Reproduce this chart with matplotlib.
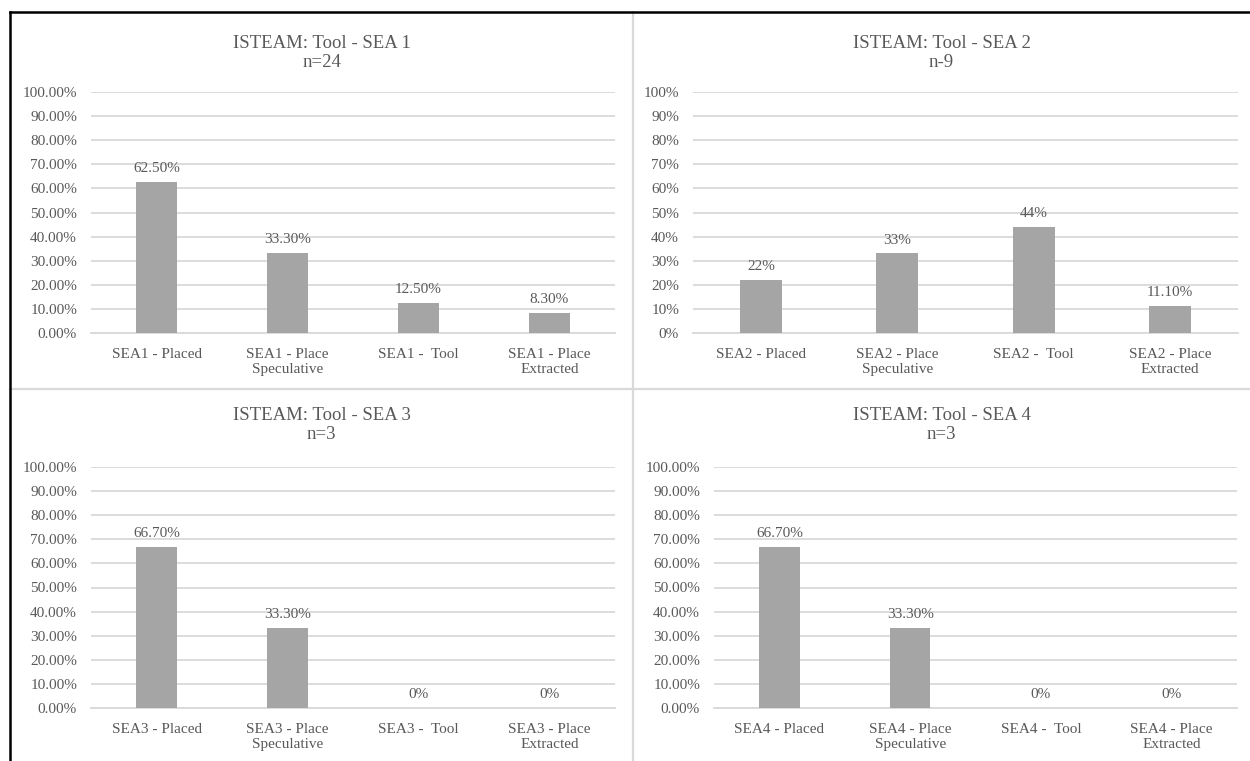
import matplotlib
matplotlib.use("Agg")
import matplotlib.pyplot as plt
from matplotlib.lines import Line2D
from matplotlib.ticker import FuncFormatter

plt.rcParams["font.family"] = ["Liberation Serif", "DejaVu Serif"]

# ---- data ----
titles = ["ISTEAM: Tool - SEA 1\nn=24", "ISTEAM: Tool - SEA 2\nn-9",
          "ISTEAM: Tool - SEA 3\nn=3", "ISTEAM: Tool - SEA 4\nn=3"]

cats_sea1 = ["SEA1 - Placed", "SEA1 - Place\nSpeculative", "SEA1 -  Tool", "SEA1 - Place\nExtracted"]
cats_sea2 = ["SEA2 - Placed", "SEA2 - Place\nSpeculative", "SEA2 -  Tool", "SEA2 - Place\nExtracted"]
cats_sea3 = ["SEA3 - Placed", "SEA3 - Place\nSpeculative", "SEA3 -  Tool", "SEA3 - Place\nExtracted"]
cats_sea4 = ["SEA4 - Placed", "SEA4 - Place\nSpeculative", "SEA4 -  Tool", "SEA4 - Place\nExtracted"]

vals_sea1 = [62.5, 33.3, 12.5, 8.3]
vals_sea2 = [22, 33, 44, 11.1]
vals_sea3 = [66.7, 33.3, 0, 0]
vals_sea4 = [66.7, 33.3, 0, 0]

# decimals shown in each data label
dec_sea1 = [2, 2, 2, 2]
dec_sea2 = [0, 0, 0, 2]
dec_sea3 = [2, 2, 0, 0]
dec_sea4 = [2, 2, 0, 0]

# decimals on the y tick labels
ytick_dec = [2, 0, 2, 2]
yticks = [0, 10, 20, 30, 40, 50, 60, 70, 80, 90, 100]

# ---- style ----
W, H = 1250, 761
BAR = "#A5A5A5"
GRID = "#D9D9D9"
TXT = "#595959"

fig = plt.figure(figsize=(W / 100, H / 100), dpi=100)


def frac_rect(x0, x1, ytop, ybot):
    return [x0 / W, 1 - ybot / H, (x1 - x0) / W, (ybot - ytop) / H]


rects = [frac_rect(91, 615, 92, 333), frac_rect(693, 1238, 92, 333),
         frac_rect(91, 615, 467, 708), frac_rect(714, 1237, 467, 708)]
title_xy = [(321.5, 53), (941.5, 53), (321.5, 425), (941.5, 425)]

panels = [(cats_sea1, vals_sea1, dec_sea1), (cats_sea2, vals_sea2, dec_sea2),
          (cats_sea3, vals_sea3, dec_sea3), (cats_sea4, vals_sea4, dec_sea4)]

for i, ((cats, vals, decs), rect) in enumerate(zip(panels, rects)):
    ax = fig.add_axes(rect)
    x = list(range(len(cats)))
    ax.bar(x, vals, width=0.31, color=BAR, zorder=3)
    ax.set_xlim(-0.5, len(cats) - 0.5)
    ax.set_ylim(0, 100)
    ax.set_yticks(yticks)
    d = ytick_dec[i]
    ax.yaxis.set_major_formatter(FuncFormatter(lambda v, p, d=d: f"{v:.{d}f}%"))
    ax.set_xticks(x)
    ax.set_xticklabels(cats, linespacing=1.25)
    ax.grid(axis="y", color=GRID, linewidth=1.3, zorder=0)
    for s in ["top", "right", "left"]:
        ax.spines[s].set_visible(False)
    ax.spines["bottom"].set_color(GRID)
    ax.spines["bottom"].set_linewidth(1.3)
    ax.tick_params(axis="both", length=0, labelsize=11, labelcolor=TXT)
    ax.tick_params(axis="y", pad=10)
    ax.tick_params(axis="x", pad=10.5)
    for xi, v, dd in zip(x, vals, decs):
        ax.annotate(f"{v:.{dd}f}%", (xi, v), xytext=(0, 5), textcoords="offset points",
                    ha="center", va="bottom", fontsize=11, color=TXT)
    tx, ty = title_xy[i]
    fig.text(tx / W, 1 - ty / H, titles[i], ha="center", va="center",
             fontsize=13.5, color=TXT, linespacing=1.2)

# panel separators and outer frame
fig.add_artist(Line2D([633 / W, 633 / W], [0, 1 - 12 / H], color=GRID, lw=1.6))
fig.add_artist(Line2D([10 / W, 1], [1 - 389 / H, 1 - 389 / H], color=GRID, lw=1.6))
fig.add_artist(Line2D([10 / W, 10 / W], [0, 1 - 12 / H], color="black", lw=1.8))
fig.add_artist(Line2D([10 / W, 1], [1 - 12 / H, 1 - 12 / H], color="black", lw=1.8))

fig.savefig("out.png", dpi=100, facecolor="white")
